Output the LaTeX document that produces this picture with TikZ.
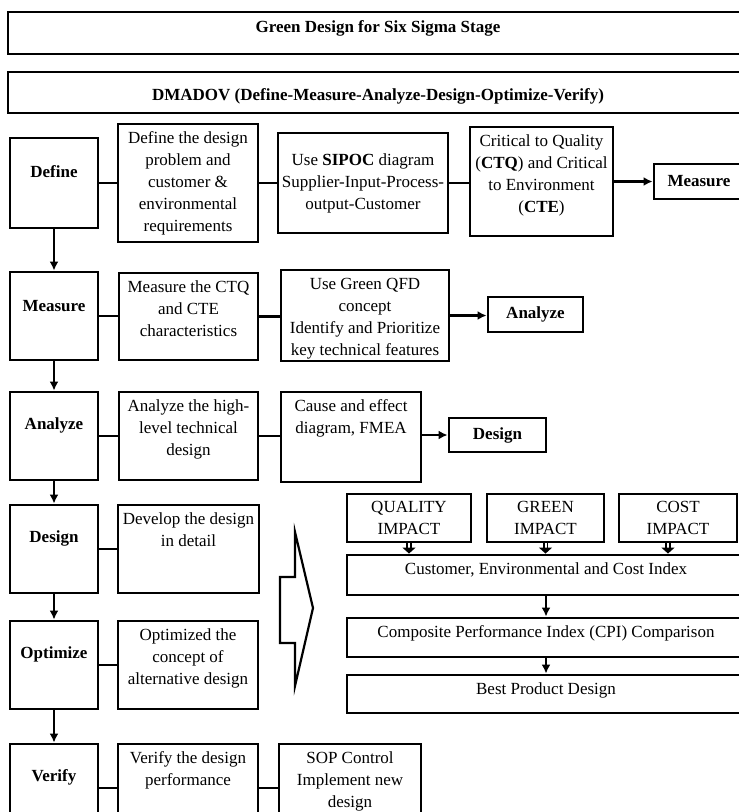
\documentclass[tikz,border=0pt]{standalone}
\usepackage{fontspec}
\setmainfont{Liberation Serif}
\usetikzlibrary{positioning}
\usetikzlibrary{arrows.meta}

\begin{document}
\begin{tikzpicture}[x=1pt, y=-1pt,
  box/.style={draw, line width=2.9pt, inner sep=0pt},
  txt/.style={font=\fontsize{17}{22}\selectfont, align=center, inner sep=0pt},
  hd/.style={txt, font=\fontsize{17}{22}\selectfont\bfseries},
  intext/.style={label={[txt, anchor=north, yshift=-9pt]north:{#1}}},
  inhead/.style={label={[hd, anchor=center, yshift=-35pt]north:{#1}}},
  stage/.style={box, minimum width=88pt, minimum height=88pt, inhead=#1},
  link/.style={line width=2.5pt},
  arr/.style={line width=2.5pt, -{Latex[length=9pt, width=9pt]}},
  hollow/.style={double, double distance=2pt, line width=1.7pt, -{Triangle[length=6pt, width=13pt]}}]
  \useasboundingbox (0,0) rectangle (739,812);
  \fill[white] (0,0) rectangle (739,812);
  \clip (0,0) rectangle (739,812);

  % Title
  \node[box, minimum width=740pt, minimum height=42pt,
        label={[hd, anchor=north, yshift=-10pt]north:Green Design for Six Sigma Stage}] (title) at (378,33) {};
  \node[box, minimum width=740pt, minimum height=41pt,
        label={[hd, anchor=north, yshift=-18pt]north:DMADOV (Define-Measure-Analyze-Design-Optimize-Verify)}] (dmadov) at (378,92.5) {};

  % Stages
  \node[stage=Define, minimum height=90pt] (def) at (54,183) {};
  \node[stage=Measure] (mea) at (54,316) {};
  \node[stage=Analyze] (ana) at (54,436) {};
  \node[stage=Design] (des) at (54,549) {};
  \node[stage=Optimize] (opt) at (54,665) {};
  \node[stage=Verify] (ver) at (54,788) {};

  % Define row
  \node[box, minimum width=140pt, minimum height=118pt,
        intext={Define the design\\problem and\\customer \&\\environmental\\requirements}] (d1) at (188,183) {};
  \node[box, txt, minimum width=170pt, minimum height=100pt] (d2) at (363,183)
        {Use \textbf{SIPOC} diagram\\Supplier-Input-Process-\\output-Customer};
  \node[box, minimum width=143pt, minimum height=109pt,
        intext={Critical to Quality\\(\textbf{CTQ}) and Critical\\to Environment\\(\textbf{CTE})}] (d3) at (541.5,181.5) {};
  \node[box, hd, minimum width=90pt, minimum height=35pt] (goM) at (699,181.5) {Measure};

  % Measure row
  \node[box, minimum width=139pt, minimum height=87pt,
        intext={Measure the CTQ\\and CTE\\characteristics}] (m1) at (188.5,316.5) {};
  \node[box, minimum width=168pt, minimum height=91pt,
        intext={Use Green QFD\\concept\\Identify and Prioritize\\key technical features}] (m2) at (365,315.5) {};
  \node[box, hd, minimum width=95pt, minimum height=35pt] (goA) at (535.5,314.5) {Analyze};

  % Analyze row
  \node[box, minimum width=139pt, minimum height=88pt,
        intext={Analyze the high-\\level technical\\design}] (a1) at (188.5,436) {};
  \node[box, minimum width=140pt, minimum height=90pt,
        intext={Cause and effect\\diagram, FMEA}] (a2) at (351,437) {};
  \node[box, hd, minimum width=97pt, minimum height=34pt] (goD) at (497.5,435) {Design};

  % Design, Optimize, Verify rows
  \node[box, minimum width=141pt, minimum height=88pt,
        intext={Develop the design\\in detail}] (e1) at (188.5,549) {};
  \node[box, minimum width=140pt, minimum height=88pt,
        intext={Optimized the\\concept of\\alternative design}] (o1) at (188,665) {};
  \node[box, minimum width=140pt, minimum height=88pt,
        intext={Verify the design\\performance}] (v1) at (188,788) {};
  \node[box, minimum width=142pt, minimum height=88pt,
        intext={SOP Control\\Implement new\\design}] (v2) at (350,788) {};

  % Impact panel
  \node[box, txt, minimum width=124pt, minimum height=48pt] (qi) at (409,518) {QUALITY\\IMPACT};
  \node[box, txt, minimum width=117pt, minimum height=48pt] (gi) at (545.5,518) {GREEN\\IMPACT};
  \node[box, txt, minimum width=118pt, minimum height=48pt] (ci) at (678,518) {COST\\IMPACT};
  \node[box, minimum width=398pt, minimum height=40pt,
        intext={Customer, Environmental and Cost Index}] (cx) at (546,575) {};
  \node[box, minimum width=398pt, minimum height=39pt,
        intext={Composite Performance Index (CPI) Comparison}] (cpi) at (546,637.5) {};
  \node[box, minimum width=398pt, minimum height=38pt,
        intext={Best Product Design}] (best) at (546,694) {};

  % Big arrow
  \draw[line width=2.2pt] (280,577) -- (295,577) -- (295,532) -- (313,608)
    -- (295,686) -- (295,643) -- (280,643) -- cycle;

  % Connectors
  \draw[link] (def.east) -- (def.east -| d1.west);
  \draw[link] (d1.east) -- (d1.east -| d2.west);
  \draw[link] (d2.east) -- (d2.east -| d3.west);
  \draw[arr] (d3.east) -- (d3.east -| goM.west);

  \draw[link] (mea.east) -- (mea.east -| m1.west);
  \draw[link] (m1.east) -- (m1.east -| m2.west);
  \draw[arr] (m2.east) -- (m2.east -| goA.west);

  \draw[link] (ana.east) -- (ana.east -| a1.west);
  \draw[link] (a1.east) -- (a1.east -| a2.west);
  \draw[arr] (a2.east |- goD.west) -- (goD.west);

  \draw[link] (des.east) -- (des.east -| e1.west);
  \draw[link] (opt.east) -- (opt.east -| o1.west);
  \draw[link] (ver.east) -- (ver.east -| v1.west);
  \draw[link] (v1.east) -- (v1.east -| v2.west);

  \draw[arr] (def) -- (mea);
  \draw[arr] (mea) -- (ana);
  \draw[arr] (ana) -- (des);
  \draw[arr] (des) -- (opt);
  \draw[arr] (opt) -- (ver);

  \draw[hollow] (qi.south) -- (qi.south |- cx.north);
  \draw[hollow] (gi.south) -- (gi.south |- cx.north);
  \draw[hollow] ([xshift=-10pt]ci.south) -- ([xshift=-10pt]ci.south |- cx.north);
  \draw[arr] (cx) -- (cpi);
  \draw[arr] (cpi) -- (best);
\end{tikzpicture}
\end{document}
